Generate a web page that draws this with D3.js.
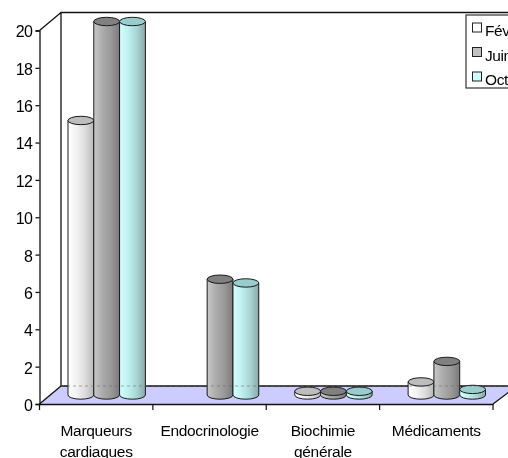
<!DOCTYPE html>
<html><head><meta charset="utf-8">
<script src="https://cdnjs.cloudflare.com/ajax/libs/d3/7.8.5/d3.min.js"></script>
<style>html,body{margin:0;padding:0;background:#fff;overflow:hidden}svg{display:block;filter:blur(.3px)}
text{font-family:"Liberation Sans",Arial,sans-serif;fill:#000}</style></head><body>
<script>
const categories=[["Marqueurs","cardiaques"],["Endocrinologie"],["Biochimie","générale"],["Médicaments"]];
const seriesNames=["Février","Juin","Octobre"];
const fevrier=[14.7,0,0.2,0.7];
const juin=[20,6.2,0.2,1.8];
const octobre=[20,6,0.2,0.3];
const yTicks=[0,2,4,6,8,10,12,14,16,18,20];

const W=508,H=458;
const svg=d3.select("body").append("svg").attr("width",W).attr("height",H);
const y=d3.scaleLinear().domain([0,20]).range([404,30.5]);
const x=d3.scaleBand().domain(d3.range(categories.length)).range([39.5,493]);
const depthX=21.5,depthY=18,barOffX=10.5,barOffY=9;
const bw=25.8,ry=4.2;
const series=[fevrier,juin,octobre];
const styles=[
 {stops:["#ffffff","#f2f2f2","#dcdcdc","#b8b8b8"],top:"#bdbdbd",key:"#ffffff"},
 {stops:["#c8c8c8","#acacac","#999999","#7a7a7a"],top:"#808080",key:"#c0c0c0"},
 {stops:["#d4ffff","#c0f0f0","#a8d4d4","#88a8a8"],top:"#99cccc",key:"#ccffff"}];
const defs=svg.append("defs");
styles.forEach((s,i)=>{
  const g=defs.append("linearGradient").attr("id","g"+i);
  s.stops.forEach((c,j)=>g.append("stop").attr("offset",j/(s.stops.length-1)).attr("stop-color",c));
});
const y0=y(0),yT=y(20),xL=x.range()[0],xR=x.range()[1];
// floor
svg.append("path").attr("fill","#ccccff").attr("stroke","none")
  .attr("d",`M${xL},${y0}L${xL+depthX},${y0-depthY}L${W+1},${y0-depthY}L${W+1},${y0-12}L${xR},${y0}Z`);
// walls
svg.append("path").attr("fill","none").attr("stroke","#111").attr("stroke-width",1.3)
  .attr("d",`M${xL+depthX},${y0-depthY}V${yT-depthY}H${W+1}M${xL+depthX},${y0-depthY}H${W+1}M${xL},${yT}L${xL+depthX},${yT-depthY}M${xL},${y0}L${xL+depthX},${y0-depthY}M${xR},${y0}L${W+1},${y0-12}`);
// bars
categories.forEach((c,ci)=>{
  const cx=x(ci)+x.bandwidth()/2+barOffX;
  series.forEach((vals,si)=>{
    const v=vals[ci];
    if(!v) return;
    const l=cx+(si-1.5)*bw, r=l+bw, mid=l+bw/2;
    const b=y(0)-barOffY, t=y(v)-barOffY;
    svg.append("path").attr("fill",`url(#g${si})`).attr("stroke","#1a1a1a").attr("stroke-width",1)
      .attr("d",`M${l},${t}V${b}A${bw/2},${ry} 0 0 0 ${r},${b}V${t}Z`);
    svg.append("ellipse").attr("cx",mid).attr("cy",t).attr("rx",bw/2).attr("ry",ry)
      .attr("fill",styles[si].top).attr("stroke","#1a1a1a").attr("stroke-width",1);
  });
});
// back-wall baseline seen through the bars
svg.append("line").attr("x1",xL+depthX).attr("x2",W).attr("y1",y0-depthY).attr("y2",y0-depthY)
  .attr("stroke","#666").attr("stroke-opacity",.55).attr("stroke-dasharray","3 3");
// axes
const ya=d3.axisLeft(y).tickValues(yTicks).tickSize(4).tickPadding(3);
const gy=svg.append("g").attr("transform",`translate(${xL},0)`).call(ya);
gy.selectAll("text").attr("font-size",16).attr("letter-spacing",-0.5).attr("dy","0.4em").attr("fill","#000");
gy.selectAll("path,line").attr("stroke","#111").attr("stroke-width",1.3);
const xa=d3.axisBottom(x).tickFormat("").tickValues([]).tickSizeOuter(0);
const gx=svg.append("g").attr("transform",`translate(0,${y0})`).call(xa);
gx.selectAll("path").attr("stroke","#111").attr("stroke-width",1.6);
d3.range(categories.length+1).forEach(i=>{
  const px=xL+i*x.step();
  gx.append("line").attr("x1",px).attr("x2",px).attr("y1",0).attr("y2",6).attr("stroke","#111").attr("stroke-width",1.2);
});
categories.forEach((c,ci)=>{
  const t=svg.append("text").attr("text-anchor","middle").attr("font-size",15.5).attr("letter-spacing",-0.3);
  c.forEach((ln,li)=>t.append("tspan").attr("x",x(ci)+x.bandwidth()/2).attr("y",436+li*21).text(ln));
});
// legend
const lg=svg.append("g");
lg.append("rect").attr("x",466).attr("y",15).attr("width",60).attr("height",73).attr("fill","#fff").attr("stroke","#333").attr("stroke-width",1.2);
seriesNames.forEach((n,i)=>{
  const yy=23+i*24.5;
  lg.append("rect").attr("x",472.5).attr("y",yy).attr("width",9).attr("height",9).attr("fill",styles[i].key).attr("stroke","#222");
  lg.append("text").attr("x",485).attr("y",yy+13).attr("font-size",15.5).attr("letter-spacing",-0.4).text(n);
});
</script></body></html>
